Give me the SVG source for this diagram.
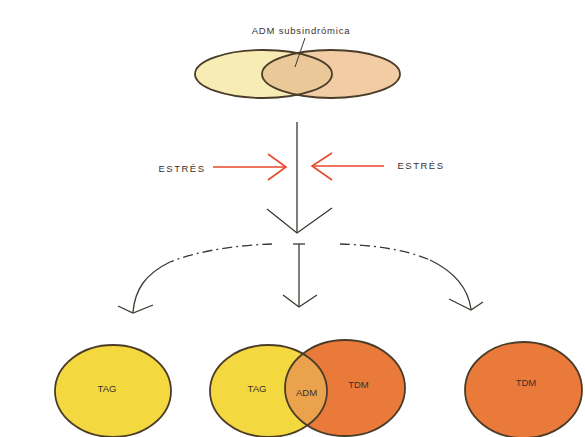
<svg xmlns="http://www.w3.org/2000/svg" width="585" height="437" viewBox="0 0 585 437">
<style>
.lbl{font-family:"Liberation Sans",Arial,sans-serif;font-size:9.5px;fill:#3a3030;text-anchor:middle}
.wide{letter-spacing:0.8px}
.wider{letter-spacing:1.5px}
.edge{stroke:#4a3c28;stroke-width:1.8}
.conn{fill:none;stroke:#3c3830;stroke-width:1.3}
.red{fill:none;stroke:#e8482c;stroke-width:1.6}
</style>
<defs>
<clipPath id="clipTopL"><ellipse cx="263.5" cy="74" rx="68.5" ry="24"/></clipPath>
<clipPath id="clipMidY"><ellipse cx="268.5" cy="391" rx="58.5" ry="46"/></clipPath>
</defs>
<rect width="585" height="437" fill="#ffffff"/>

<g id="top-venn">
<ellipse cx="263.5" cy="74" rx="68.5" ry="24" fill="#f7ecb4"/>
<ellipse cx="331" cy="74" rx="69" ry="24" fill="#f1cca4"/>
<ellipse cx="331" cy="74" rx="69" ry="24" fill="#ebc898" clip-path="url(#clipTopL)"/>
<ellipse cx="263.5" cy="74" rx="68.5" ry="24" fill="none" class="edge"/>
<ellipse cx="331" cy="74" rx="69" ry="24" fill="none" class="edge"/>
<text class="lbl wide" x="301" y="34">ADM subsindrómica</text>
<line x1="305" y1="38" x2="295" y2="67" stroke="#3c3830" stroke-width="1"/>
</g>

<g id="stress-left">
<text class="lbl wider" x="182" y="172">ESTRÉS</text>
<line class="red" x1="213" y1="167" x2="286" y2="167"/>
<polyline class="red" points="268,154 286,167 268,180"/>
</g>
<g id="stress-right">
<text class="lbl wider" x="421" y="169">ESTRÉS</text>
<line class="red" x1="384" y1="166" x2="312" y2="166"/>
<polyline class="red" points="332,153 312,166 332,180"/>
</g>

<g id="connectors">
<line class="conn" x1="297" y1="122" x2="297" y2="233"/>
<polyline class="conn" points="267,209 297,233 332,208"/>
<line class="conn" x1="299" y1="244" x2="299" y2="307"/>
<line class="conn" x1="293" y1="244" x2="305" y2="244"/>
<polyline class="conn" points="283,295 299,307 317,295"/>
<path class="conn" stroke-dasharray="10 4 2 4" d="M272 244 C240 245 200 250 170 262"/>
<path class="conn" d="M170 262 C145 274 135 290 133 312"/>
<polyline class="conn" points="118,306 133,313 153,305"/>
<path class="conn" stroke-dasharray="10 4 2 4" d="M340 244 C370 245 405 249 430 260"/>
<path class="conn" d="M430 260 C455 272 468 288 471 309"/>
<polyline class="conn" points="449,299 471,310 483,302"/>
</g>

<g id="tag-left">
<ellipse cx="113" cy="391" rx="58" ry="46" fill="#f4d840" class="edge"/>
<text class="lbl" x="107" y="392">TAG</text>
</g>

<g id="mid-venn">
<ellipse cx="268.5" cy="391" rx="58.5" ry="46" fill="#f4d840"/>
<ellipse cx="345" cy="388" rx="60" ry="48" fill="#ea7a3a"/>
<ellipse cx="345" cy="388" rx="60" ry="48" fill="#eba24c" clip-path="url(#clipMidY)"/>
<ellipse cx="268.5" cy="391" rx="58.5" ry="46" fill="none" class="edge"/>
<ellipse cx="345" cy="388" rx="60" ry="48" fill="none" class="edge"/>
<text class="lbl" x="257" y="392">TAG</text>
<text class="lbl" x="306.5" y="396">ADM</text>
<text class="lbl" x="358.5" y="388">TDM</text>
</g>

<g id="tdm-right">
<ellipse cx="523.5" cy="390" rx="58.5" ry="48" fill="#ea7a3a" class="edge"/>
<text class="lbl" x="526" y="386">TDM</text>
</g>
</svg>
